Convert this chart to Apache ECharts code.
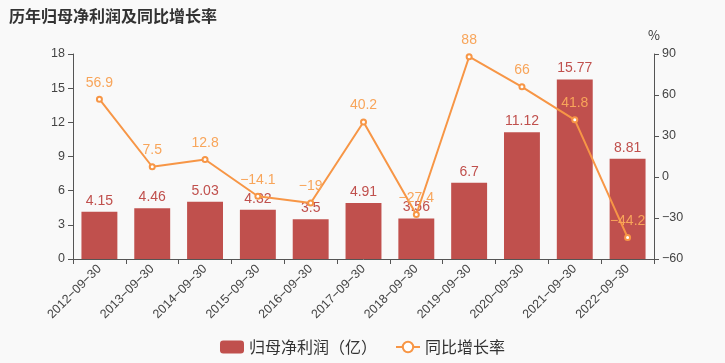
<!DOCTYPE html>
<html><head><meta charset="utf-8">
<script src="https://cdn.jsdelivr.net/npm/echarts@6/dist/echarts.min.js"></script>
<style>html,body{margin:0;padding:0;background:#f9f9f9}#c{width:725px;height:363px}</style>
</head><body><div id="c"></div>
<script>
const categories = ['2012-09-30','2013-09-30','2014-09-30','2015-09-30','2016-09-30','2017-09-30','2018-09-30','2019-09-30','2020-09-30','2021-09-30','2022-09-30'];
const profit = [4.15, 4.46, 5.03, 4.32, 3.5, 4.91, 3.56, 6.7, 11.12, 15.77, 8.81];
const growth = [56.9, 7.5, 12.8, -14.1, -19, 40.2, -27.4, 88, 66, 41.8, -44.2];
const leftTicks = {min: 0, max: 18, interval: 3};
const rightTicks = {min: -60, max: 90, interval: 30};

const minus = v => String(v).replace(/-/g, '\u2212');
const font = '"Microsoft YaHei","Noto Sans CJK SC",sans-serif';
const chart = echarts.init(document.getElementById('c'));
chart.setOption({
  backgroundColor: '#f9f9f9',
  textStyle: {fontFamily: font},
  title: {text: '历年归母净利润及同比增长率', left: 4, top: 3,
    textStyle: {fontSize: 16, fontWeight: 'bold', color: '#333', fontFamily: font}},
  grid: {left: 73, right: 71, top: 54, bottom: 104},
  legend: {bottom: 3, left: 'center', itemGap: 18, itemWidth: 24, itemHeight: 13,
    textStyle: {fontSize: 16, color: '#333'},
    data: [{name: '归母净利润（亿）', icon: 'roundRect'}, {name: '同比增长率'}]},
  xAxis: {type: 'category', data: categories,
    axisLine: {lineStyle: {color: '#555'}},
    axisTick: {show: true, lineStyle: {color: '#555'}},
    axisLabel: {rotate: 45, fontSize: 12.5, color: '#444', interval: 0, margin: 8, fontFamily: 'Arial, sans-serif',
      formatter: v => minus(v)}},
  yAxis: [
    {type: 'value', min: leftTicks.min, max: leftTicks.max, interval: leftTicks.interval,
      splitLine: {show: false},
      axisLine: {show: true, lineStyle: {color: '#555'}},
      axisTick: {show: true, lineStyle: {color: '#555'}},
      axisLabel: {fontSize: 12.5, color: '#444', fontFamily: 'Arial, sans-serif'}},
    {type: 'value', min: rightTicks.min, max: rightTicks.max, interval: rightTicks.interval,
      name: '%', nameGap: 12, nameTextStyle: {fontSize: 13, color: '#333', align: 'center'},
      splitLine: {show: false},
      axisLine: {show: true, lineStyle: {color: '#555'}},
      axisTick: {show: true, lineStyle: {color: '#555'}},
      axisLabel: {fontSize: 12.5, color: '#444', fontFamily: 'Arial, sans-serif', formatter: v => minus(v)}}
  ],
  series: [
    {name: '归母净利润（亿）', type: 'bar', data: profit, barWidth: '68%', yAxisIndex: 0,
      itemStyle: {color: '#c0504d'},
      label: {show: true, position: 'top', fontSize: 14, color: '#c0504d', distance: 4, fontFamily: 'Arial, sans-serif'}},
    {name: '同比增长率', type: 'line', data: growth, yAxisIndex: 1,
      symbol: 'emptyCircle', symbolSize: 5,
      lineStyle: {color: '#f79646', width: 2},
      itemStyle: {color: '#f79646', borderWidth: 1},
      label: {show: true, position: 'top', fontSize: 14, color: '#f8a55a', distance: 6, fontFamily: 'Arial, sans-serif',
        formatter: p => minus(p.value)}}
  ]
});
</script></body></html>
